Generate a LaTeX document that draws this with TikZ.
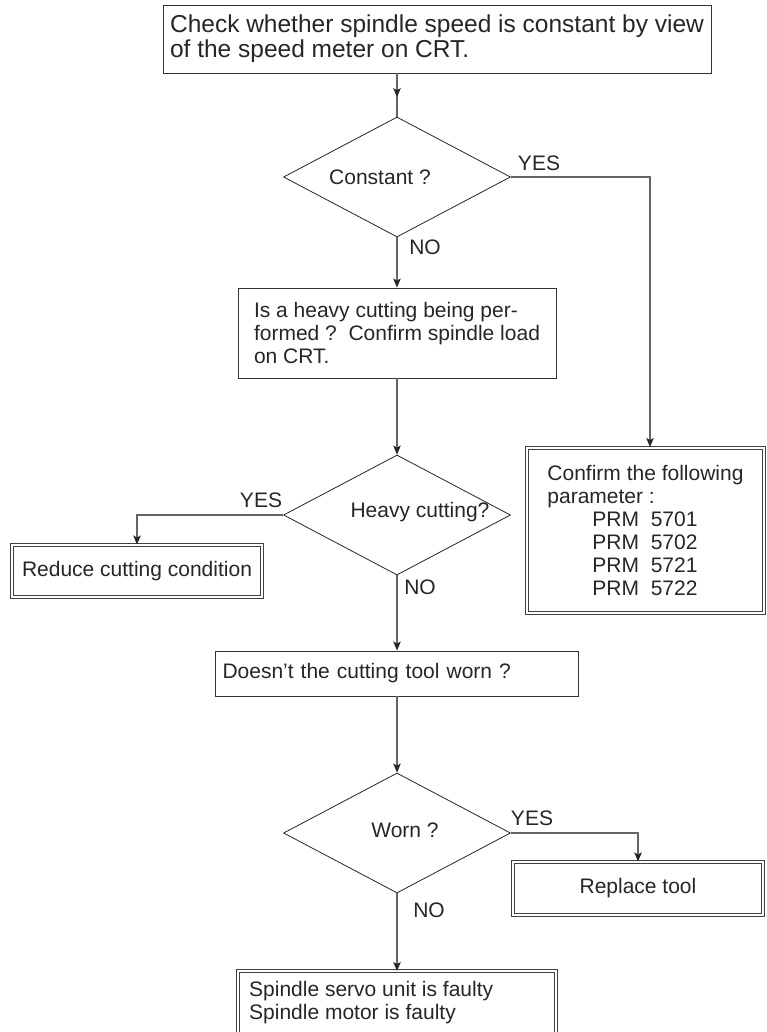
\documentclass[tikz,border=0pt]{standalone}
\usepackage{fontspec}
\setmainfont{Liberation Sans}
\usetikzlibrary{arrows.meta,shapes.geometric,decorations.markings}

\begin{document}
\begin{tikzpicture}[x=1pt,y=-1pt,
  font=\fontsize{21}{23}\selectfont, text=black!85,
  box/.style={draw=black!80,line width=0.9pt,rectangle,inner sep=0pt},
  dline/.style={draw=black!75,double=white,double distance=2pt,line width=1pt},
  dbox/.style={box,dline},
  dec/.style={draw=black!85,line width=0.8pt,diamond,minimum width=227pt,minimum height=120pt,inner sep=0pt},
  con/.style={draw=black!60,line width=1.1pt},
  tip/.style={-{Stealth[length=9pt,width=7.5pt,inset=2pt,color=black!85]}},
  arr/.style={con,tip},
  midarr/.style={con,postaction={decorate},decoration={markings,mark=at position 0.55 with {\arrow{Stealth[length=9pt,width=7.5pt,inset=2pt,color=black!85]}}}}]
\useasboundingbox (0,0) rectangle (767,1032);

% check speed
\node[box,minimum width=548pt,minimum height=68pt,align=left,font=\fontsize{24.5}{25}\selectfont] (chk) at (437,39) {Check whether spindle speed is constant by view\\of the speed meter on CRT.};
\node[dec] (dconst) at (397,177) {};
\node (tconst) at (380,177) {Constant ?};
\node (yes1) at (539,163) {YES};
\node (no1) at (425,247) {NO};
\node[dbox,minimum width=237pt,minimum height=165pt,align=left] (param) at (645.5,530) {Confirm the following\\parameter :\\\hspace*{45pt}PRM\ \ 5701\\\hspace*{45pt}PRM\ \ 5702\\\hspace*{45pt}PRM\ \ 5721\\\hspace*{45pt}PRM\ \ 5722};

% heavy cutting
\node[box,minimum width=318pt,minimum height=90pt,align=left] (heavy) at (397,333) {Is a heavy cutting being per-\\formed ?\ \ Confirm spindle load\\on CRT.};
\node[dec] (dheavy) at (397,515) {};
\node (theavy) at (420,512) {Heavy cutting?};
\node (yes2) at (261,500) {YES};
\node (no2) at (420,587) {NO};
\node[dbox,minimum width=250pt,minimum height=52pt] (reduce) at (137,571) {Reduce cutting condition};

% tool worn
\node[box,minimum width=363pt,minimum height=45pt,align=left,text width=349pt] (worn) at (397,673.5) {Doesn’t the cutting tool worn ?};
\node[dec] (dworn) at (397,833) {};
\node (tworn) at (405,830) {Worn ?};
\node (yes3) at (532,818) {YES};
\node (no3) at (429,910) {NO};
\node[dbox,minimum width=250pt,minimum height=53pt] (replace) at (638,888.5) {Replace tool};
\node[minimum width=317pt,minimum height=60.5pt,anchor=north,inner sep=0pt] (fault) at (397,971) {};
\draw[dline] (fault.south west) -- (fault.north west) -- (fault.north east) -- (fault.south east);
\node[anchor=north west,align=left,inner sep=0pt] (tfault) at (249,981) {Spindle servo unit is faulty\\Spindle motor is faulty};

% connectors
\draw[midarr] (dconst.north |- chk.south) -- (dconst.north);
\draw[arr] (dconst.east) -| ([xshift=4.5pt]param.north);
\draw[arr] (dconst.south) -- (heavy.north);
\draw[arr] (heavy.south) -- (dheavy.north);
\draw[arr] (dheavy.west) -| (reduce.north);
\draw[arr] (dheavy.south) -- (worn.north);
\draw[arr] (worn.south) -- (dworn.north);
\draw[arr] (dworn.east) -| (replace.north);
\draw[arr] (dworn.south) -- (fault.north);
\end{tikzpicture}
\end{document}
